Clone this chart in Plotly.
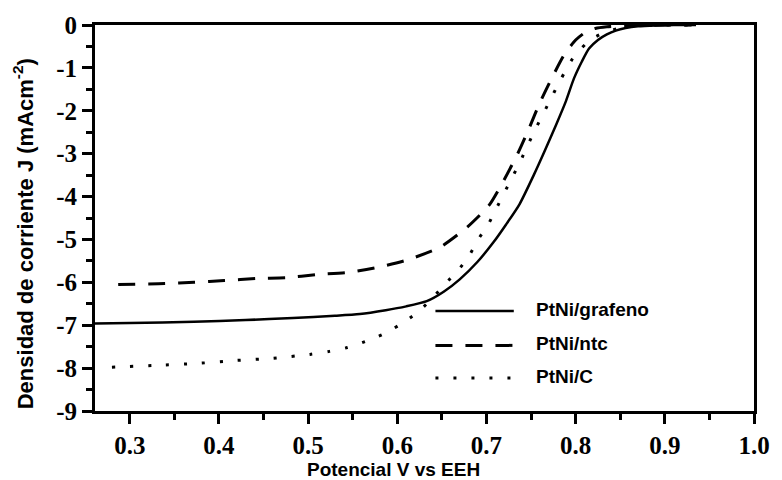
import plotly.graph_objects as go

# --- data ---
v_graf = [0.261, 0.30, 0.372, 0.43, 0.483, 0.53, 0.558, 0.587, 0.61, 0.633, 0.652, 0.670, 0.69, 0.708,
          0.722, 0.737, 0.753, 0.765, 0.778, 0.789, 0.798, 0.807, 0.815, 0.825, 0.835, 0.845, 0.856,
          0.87, 0.89, 0.91, 0.935]
j_graf = [-6.96, -6.95, -6.92, -6.88, -6.83, -6.78, -6.74, -6.65, -6.56, -6.44, -6.22, -5.93, -5.52, -5.06,
          -4.65, -4.18, -3.50, -2.95, -2.33, -1.78, -1.25, -0.85, -0.55, -0.35, -0.22, -0.13, -0.07,
          -0.03, -0.01, 0.0, 0.0]

v_ntc = [0.287, 0.339, 0.372, 0.406, 0.442, 0.476, 0.509, 0.544, 0.578, 0.611, 0.648, 0.678, 0.703,
         0.72, 0.735, 0.748, 0.759, 0.773, 0.787, 0.80, 0.811, 0.822, 0.835, 0.85, 0.87, 0.9, 0.93]
j_ntc = [-6.05, -6.03, -6.0, -5.96, -5.91, -5.89, -5.82, -5.77, -5.65, -5.48, -5.18, -4.72, -4.2,
         -3.6, -3.0, -2.4, -1.85, -1.25, -0.70, -0.35, -0.17, -0.08, -0.04, -0.02, -0.01, 0.0, 0.0]

v_c = [0.280, 0.336, 0.376, 0.420, 0.461, 0.502, 0.524, 0.544, 0.564, 0.583, 0.602, 0.622, 0.638,
       0.653, 0.669, 0.681, 0.691, 0.702, 0.711, 0.724, 0.737, 0.752, 0.769, 0.783, 0.797, 0.811,
       0.822, 0.833, 0.852, 0.87, 0.9, 0.93]
j_c = [-7.98, -7.93, -7.89, -7.82, -7.77, -7.68, -7.61, -7.52, -7.38, -7.22, -7.0, -6.71, -6.4,
       -6.05, -5.7, -5.36, -4.99, -4.65, -4.28, -3.75, -3.22, -2.55, -1.85, -1.28, -0.77, -0.45,
       -0.28, -0.17, -0.06, -0.02, 0.0, 0.0]

series_names = ["PtNi/grafeno", "PtNi/ntc", "PtNi/C"]
x_tickvals = [0.3, 0.4, 0.5, 0.6, 0.7, 0.8, 0.9, 1.0]
x_ticktext = ["0.3", "0.4", "0.5", "0.6", "0.7", "0.8", "0.9", "1.0"]
y_tickvals = [0, -1, -2, -3, -4, -5, -6, -7, -8, -9]
y_ticktext = ["0", "-1", "-2", "-3", "-4", "-5", "-6", "-7", "-8", "-9"]

styles = [dict(width=2.5, dash="solid"),
          dict(width=3, dash="17px,13px"),
          dict(width=3, dash="3px,15px")]

fig = go.Figure()
for (xv, yv), name, st in zip([(v_graf, j_graf), (v_ntc, j_ntc), (v_c, j_c)], series_names, styles):
    fig.add_trace(go.Scatter(x=xv, y=yv, mode="lines", name=name, showlegend=False,
                             line=dict(color="black", shape="spline", smoothing=0.6, **st)))

tickfont = dict(family="Liberation Serif", size=25, color="black")
common = dict(showline=True, linewidth=3, linecolor="black", mirror=True,
              ticks="outside", tickwidth=2.5, tickcolor="black",
              showgrid=False, zeroline=False, tickfont=tickfont)

fig.update_layout(
    width=782, height=480, margin=dict(l=95, r=23, t=19.5, b=68.5),
    plot_bgcolor="white", paper_bgcolor="white", showlegend=False,
    xaxis=dict(range=[0.261, 1.0], tickmode="array", tickvals=x_tickvals,
               ticktext=["<b>%s</b>" % t for t in x_ticktext], ticklen=10,
               minor=dict(ticks="outside", ticklen=6, tickwidth=2.5, dtick=0.05, tick0=0.25, tickcolor="black"),
               **common),
    yaxis=dict(range=[-9, 0], tickmode="array", tickvals=y_tickvals,
               ticktext=["<b>%s</b>" % t for t in y_ticktext], ticklen=10,
               minor=dict(ticks="outside", ticklen=6, tickwidth=2.5, dtick=0.5, tick0=0, tickcolor="black"),
               **common),
)

# manual legend
legend_rows = [0.259, 0.170, 0.0855]
for name, st, yy in zip(series_names, styles, legend_rows):
    fig.add_shape(type="line", xref="paper", yref="paper", x0=0.5166, x1=0.6355, y0=yy, y1=yy,
                  line=dict(color="black", width=st["width"], dash=st["dash"]))
    fig.add_annotation(xref="paper", yref="paper", x=0.6657, y=yy + 0.004, text="<b>%s</b>" % name,
                       showarrow=False, xanchor="left", yanchor="middle",
                       font=dict(family="Liberation Sans", size=19, color="black"))

fig.add_annotation(xref="paper", yref="paper", x=0.453, y=-0.152, text="<b>Potencial V vs EEH</b>",
                   showarrow=False, xanchor="center", yanchor="middle",
                   font=dict(family="Liberation Sans", size=19, color="black"))
fig.add_annotation(xref="paper", yref="paper", x=-0.108, y=0.46,
                   text="<b>Densidad de corriente J (mAcm<sup>-2</sup>)</b>", textangle=-90,
                   showarrow=False, xanchor="center", yanchor="middle",
                   font=dict(family="Liberation Sans", size=22, color="black"))

fig.write_html("out.html")
